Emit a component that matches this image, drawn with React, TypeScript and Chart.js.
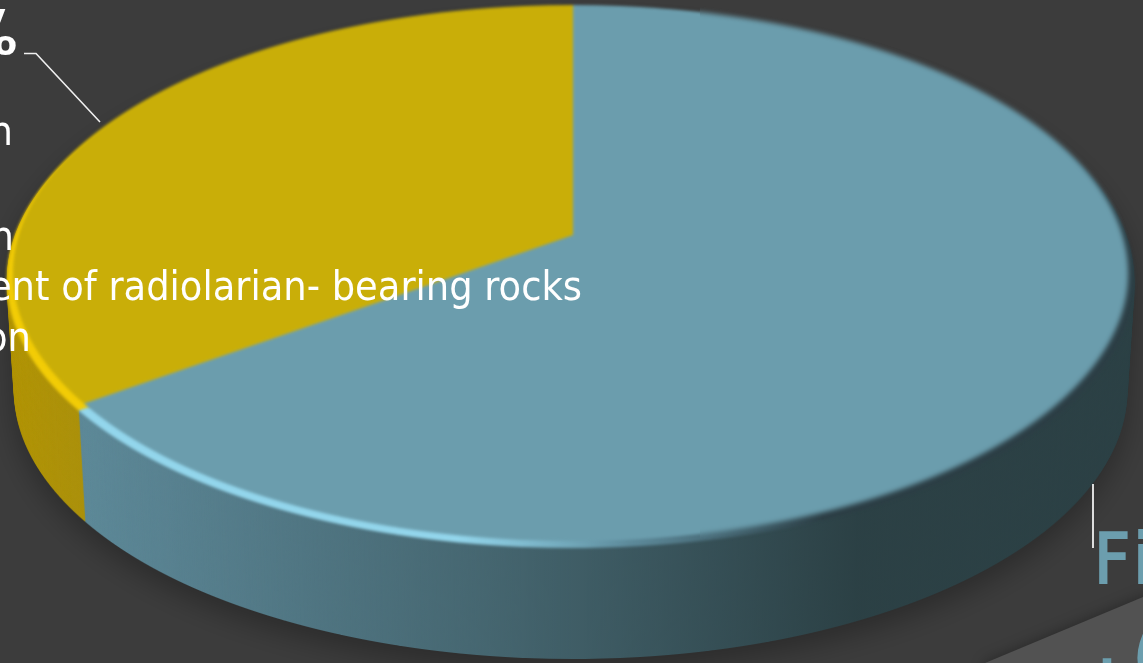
import React, { useEffect, useRef } from "react";
import { Chart, registerables } from "chart.js";

Chart.register(...registerables);

const categories = ["Radiolarian-bearing rocks", "Other"];
const sliceValues = [65, 35];
const faceColors = ["#6b9dad", "#c9ae08"];
const rimColors = ["#93d6ec", "#f2cc06"];
const sideColors = ["#6c9eae", "#c9a808"];
const bodyLines = [
  { text: "n", x: 13, y: 145 },
  { text: "n", x: 14, y: 250 },
  { text: "ent of radiolarian- bearing rocks", x: 582, y: 300 },
  { text: "on", x: 31, y: 351 },
];
const boldLines = [
  { text: "y", x: 6, y: 28, size: 34, clip: 23 },
  { text: "o", x: 17, y: 54.5, size: 34, clip: 663 },
];
const headingLines = [
  { text: "Fi", x: 1094, y: 583 },
  { text: ".", x: 1097, y: 668 },
  { text: "(", x: 1133, y: 680 },
];

const W = 1143;
const H = 663;

const makeLayer = () => {
  const c = document.createElement("canvas");
  c.width = W;
  c.height = H;
  return c;
};

const pie3d = {
  id: "pie3d",
  beforeDatasetsDraw(chart: any) {
    const meta = chart.getDatasetMeta(0);
    const first = meta.data[0];
    const R = first.outerRadius;
    const Cx = first.x;
    const Cy = first.y;
    const cx = 573, cy = 235, AL = 554.3, AR = 549.4, B = 262.6, p = 0.1418;
    const paintDisc = (target: CanvasRenderingContext2D, colors: string[], grow = 1, drop = 0) => {
      const yc = cy + drop;
      for (let y = 0; y < H; y += 1) {
        const Y = (y + 0.5 - yc) / B;
        const v = Y / (1 + p * Y);
        if (v < -1.02 || v > 1.02) continue;
        const w = 1 - p * v;
        const Y2 = (y + 1.5 - yc) / B;
        const v2 = Y2 / (1 + p * Y2);
        const sy = 1 / ((v2 - v) * R);
        [
          { x0: 0, x1: cx, A: AL },
          { x0: cx, x1: W, A: AR },
        ].forEach((half) => {
          const sx = ((half.A * grow) / R) / w;
          target.save();
          target.beginPath();
          target.rect(half.x0, y, half.x1 - half.x0, 1.02);
          target.clip();
          target.setTransform(sx, 0, 0, sy, cx - sx * Cx, y + 0.5 - sy * (Cy + v * R));
          meta.data.forEach((arc: any, i: number) => {
            const saved = arc.options;
            arc.options = { ...saved, backgroundColor: colors[i], borderColor: colors[i], borderWidth: 0 };
            arc.draw(target);
            arc.options = saved;
          });
          target.restore();
        });
      }
    };
    const ctx = chart.ctx as CanvasRenderingContext2D;
    const rimGrow = 1.011;
    const rimDrop = 7;

    // side wall
    const sideDisc = makeLayer();
    paintDisc(sideDisc.getContext("2d")!, sideColors, rimGrow, rimDrop);
    const side = makeLayer();
    const sc = side.getContext("2d")!;
    const depth = 111;
    for (let d = depth; d >= 0; d -= 1) {
      const k = 1 - 0.013 * (d / depth);
      sc.drawImage(sideDisc, 571 * (1 - k), d, W * k, H);
    }
    sc.globalCompositeOperation = "source-atop";
    const shade = sc.createLinearGradient(0, 0, W, 0);
    shade.addColorStop(0, "rgba(0,0,0,0.11)");
    shade.addColorStop(0.08, "rgba(20,30,40,0.17)");
    shade.addColorStop(0.42, "rgba(20,30,32,0.43)");
    shade.addColorStop(0.75, "rgba(20,30,30,0.73)");
    shade.addColorStop(1, "rgba(20,30,30,0.73)");
    sc.fillStyle = shade;
    sc.fillRect(0, 0, W, H);

    // soft ground shadow
    ctx.save();
    ctx.globalAlpha = 0.28;
    ctx.filter = "blur(14px) brightness(0)";
    ctx.drawImage(side, 0, 12);
    ctx.restore();
    ctx.drawImage(side, 0, 0);

    // bevel rim
    const rim = makeLayer();
    const rc = rim.getContext("2d")!;
    paintDisc(rc, rimColors, rimGrow, rimDrop);
    rc.globalCompositeOperation = "source-atop";
    const rimShade = rc.createLinearGradient(0, 0, W, 0);
    rimShade.addColorStop(0, "rgba(108,158,174,0)");
    rimShade.addColorStop(0.4, "rgba(90,135,150,0)");
    rimShade.addColorStop(0.55, "rgba(80,120,135,0.8)");
    rimShade.addColorStop(0.72, "rgba(44,62,69,1)");
    rimShade.addColorStop(1, "rgba(44,62,69,1)");
    rc.fillStyle = rimShade;
    rc.fillRect(0, 0, W, H);
    ctx.save();
    ctx.filter = "blur(1.4px)";
    ctx.drawImage(rim, 0, 0);
    ctx.restore();

    // top face: sharp-ish on the lit side, softer on the shaded side
    const face = makeLayer();
    paintDisc(face.getContext("2d")!, faceColors);
    ctx.save();
    ctx.beginPath();
    ctx.rect(0, 0, 700, H);
    ctx.clip();
    ctx.filter = "blur(1.8px)";
    ctx.drawImage(face, 0, 0);
    ctx.restore();
    ctx.save();
    ctx.beginPath();
    ctx.rect(700, 0, W - 700, H);
    ctx.clip();
    ctx.filter = "blur(2.6px)";
    ctx.drawImage(face, 0, 0);
    ctx.restore();
    return false;
  },
  afterDraw(chart: any) {
    const ctx = chart.ctx as CanvasRenderingContext2D;
    ctx.save();
    ctx.textBaseline = "alphabetic";
    ctx.textAlign = "right";
    ctx.fillStyle = "#ffffff";
    ctx.font = "condensed 41px 'DejaVu Sans'";
    bodyLines.forEach((l) => ctx.fillText(l.text, l.x, l.y));
    boldLines.forEach((l) => {
      ctx.save();
      ctx.beginPath();
      ctx.rect(0, 0, W, l.clip);
      ctx.clip();
      ctx.font = `bold ${l.size}px 'DejaVu Sans'`;
      ctx.fillText(l.text, l.x, l.y);
      ctx.restore();
    });
    ctx.strokeStyle = "#f0f0f0";
    ctx.lineWidth = 1.6;
    ctx.beginPath();
    ctx.moveTo(24, 53.5);
    ctx.lineTo(36, 53.5);
    ctx.lineTo(100, 122);
    ctx.stroke();
    ctx.lineWidth = 1.8;
    ctx.beginPath();
    ctx.moveTo(1093, 484);
    ctx.lineTo(1093, 548);
    ctx.stroke();
    ctx.textAlign = "left";
    ctx.fillStyle = "#6c9eae";
    ctx.strokeStyle = "#6c9eae";
    ctx.lineWidth = 2;
    ctx.font = "condensed 70px 'DejaVu Sans'";
    (ctx as any).letterSpacing = "8px";
    headingLines.forEach((l) => {
      ctx.fillText(l.text, l.x, l.y);
      ctx.strokeText(l.text, l.x, l.y);
    });
    ctx.restore();
  },
  beforeDraw(chart: any) {
    const ctx = chart.ctx as CanvasRenderingContext2D;
    ctx.save();
    ctx.fillStyle = "#3c3c3c";
    ctx.fillRect(0, 0, W, H);
    ctx.shadowColor = "rgba(0,0,0,0.35)";
    ctx.shadowBlur = 14;
    ctx.fillStyle = "#525252";
    ctx.beginPath();
    ctx.moveTo(985, 663);
    ctx.lineTo(1143, 597);
    ctx.lineTo(1160, 597);
    ctx.lineTo(1160, 680);
    ctx.lineTo(985, 680);
    ctx.closePath();
    ctx.fill();
    ctx.restore();
  },
};

export default function App() {
  const ref = useRef<HTMLCanvasElement | null>(null);
  useEffect(() => {
    document.body.style.margin = "0";
    document.body.style.background = "#3c3c3c";
    const chart = new Chart(ref.current!, {
      type: "pie",
      data: {
        labels: categories,
        datasets: [{ data: sliceValues, backgroundColor: faceColors, borderWidth: 0 }],
      },
      options: {
        responsive: false,
        animation: false,
        devicePixelRatio: 1,
        rotation: 0,
        layout: { padding: 0 },
        plugins: { legend: { display: false }, tooltip: { enabled: false } },
      },
      plugins: [pie3d],
    });
    return () => chart.destroy();
  }, []);
  return <canvas ref={ref} width={W} height={H} style={{ display: "block", width: W, height: H }} />;
}
